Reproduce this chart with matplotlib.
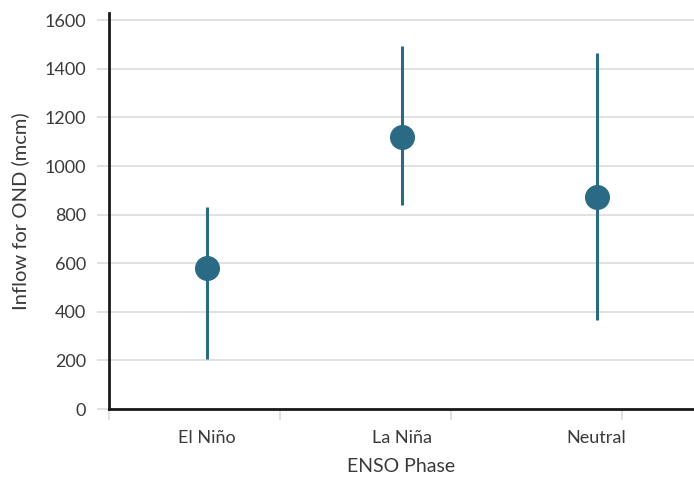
import numpy as np
import matplotlib.pyplot as plt

# ENSO phase summary values (mcm)
phases = ['El Niño', 'La Niña', 'Neutral']
centre = [582, 1120, 873]
upper = [832, 1493, 1465]
lower = [207, 840, 365]

plt.rcParams['font.family'] = ['Lato', 'DejaVu Sans']
colour = '#2b6a85'
grey = '#dcdcdc'
text_col = '#3a3a3a'

fig = plt.figure(figsize=(6.94, 4.87), dpi=100)
ax = fig.add_axes([109 / 694, 78 / 487, 1 - 109 / 694, (409 - 13) / 487])

x = np.arange(len(phases))
c = np.array(centre)
yerr = [c - np.array(lower), np.array(upper) - c]
ax.errorbar(x, c, yerr=yerr, fmt='o', color=colour, ms=17, elinewidth=2.2,
            capsize=0, zorder=3)

ax.set_xlim(-0.5, 2.5)
ax.set_ylim(0, 1630)
ax.set_yticks(np.arange(0, 1601, 200))
ax.set_xticks(x)
ax.set_xticklabels(phases)
ax.grid(axis='y', color=grey, lw=1.2)
ax.set_axisbelow(True)

# faint minor ticks under the x axis
ax.set_xticks([-0.5, 0.377, 1.254, 2.13], minor=True)
ax.tick_params(axis='x', which='major', length=0, pad=15, labelsize=13, labelcolor=text_col)
ax.tick_params(axis='x', which='minor', length=8, color=grey, width=1.2)
ax.tick_params(axis='y', length=8.5, color=grey, width=1.2, pad=8, labelsize=13, labelcolor=text_col)

for s in ['top', 'right']:
    ax.spines[s].set_visible(False)
for s in ['left', 'bottom']:
    ax.spines[s].set_linewidth(2)
    ax.spines[s].set_color('#1a1a1a')

ax.set_ylabel('Inflow for OND (mcm)', fontsize=14.5, color=text_col, va='center')
ax.set_xlabel('ENSO Phase', fontsize=14, color=text_col, va='center')
ax.yaxis.set_label_coords((20 - 109) / 585, 0.5)
ax.xaxis.set_label_coords(0.5, (409 - 466) / 396)

plt.savefig('out.png', dpi=100)
